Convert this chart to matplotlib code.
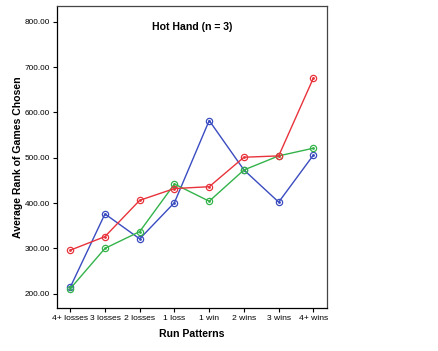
import matplotlib.pyplot as plt
import numpy as np

plt.rcParams['font.family'] = ['Liberation Sans', 'DejaVu Sans']

categories = ['4+ losses', '3 losses', '2 losses', '1 loss', '1 win', '2 wins', '3 wins', '4+ wins']
blue_vals = [214, 376, 321, 401, 582, 473, 402, 506]
red_vals = [296, 326, 406, 432, 436, 501, 504, 676]
green_vals = [211, 300, 337, 442, 404, 473, 504, 521]
yticks = [200, 300, 400, 500, 600, 700, 800]

fig = plt.figure(figsize=(4.38, 3.51), dpi=100)
ax = fig.add_axes([57 / 438, 1 - 308 / 351, 270 / 438, 302 / 351])

x = np.arange(len(categories))
for vals, col in [(blue_vals, '#3a4cc0'), (green_vals, '#34b34a'), (red_vals, '#e8333c')]:
    ax.plot(x, vals, color=col, lw=1.0, marker='o', ms=4.5, mfc='none', mec=col, mew=0.9)
    ax.plot(x, vals, ls='none', marker='o', ms=1.0, color=col)

ax.set_xlim(-0.38, 7.39)
ax.set_ylim(168.5, 834.6)
ax.set_xticks(x)
ax.set_xticklabels(categories, fontsize=6.1)
ax.set_yticks(yticks)
ax.set_yticklabels(['%.2f' % v for v in yticks], fontsize=5.9)
ax.tick_params(direction='out', length=3, width=0.8, pad=2, color='black')
for s in ax.spines.values():
    s.set_linewidth(0.9)
ax.spines['right'].set_color('#444444')
ax.spines['top'].set_color('#444444')

ax.text(0.5, 0.93, 'Hot Hand (n = 3)', transform=ax.transAxes, ha='center', va='center',
        fontsize=7.6, fontweight='bold')
ax.set_xlabel('Run Patterns', fontsize=7.6, fontweight='bold')
ax.set_ylabel('Average Rank of Games Chosen', fontsize=7.6, fontweight='bold')
ax.xaxis.set_label_coords(0.5, -0.07)
ax.yaxis.set_label_coords(-34 / 270, 0.5)

fig.savefig('out.png', dpi=100)
